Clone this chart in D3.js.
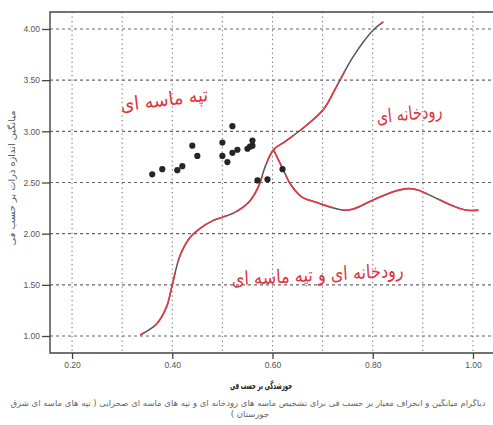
<!DOCTYPE html>
<html>
<head>
<meta charset="utf-8">
<script src="https://cdn.jsdelivr.net/npm/d3@7"></script>
<style>
  body { margin: 0; background: #fff; }
  svg { display: block; }
</style>
</head>
<body>
<svg id="chart" width="493" height="425"></svg>
<script>
// values
var yTicks = [1.00, 1.50, 2.00, 2.50, 3.00, 3.50, 4.00];
var xTicks = [0.20, 0.40, 0.60, 0.80, 1.00];
var xGrid  = [0.20, 0.30, 0.40, 0.50, 0.60, 0.70, 0.80, 0.90, 1.00];

// samples (sorting, mean)
var sampleX = [0.36, 0.38, 0.41, 0.42, 0.44, 0.45, 0.50, 0.50, 0.51, 0.52, 0.52, 0.53, 0.55, 0.555, 0.56, 0.56, 0.57, 0.59, 0.62];
var sampleY = [2.58, 2.63, 2.62, 2.66, 2.86, 2.76, 2.89, 2.76, 2.70, 3.05, 2.79, 2.82, 2.83, 2.85, 2.91, 2.86, 2.52, 2.53, 2.63];

// boundary curve: dune / river
var sCurveX = [0.336, 0.369, 0.389, 0.400, 0.415, 0.435, 0.455, 0.482, 0.522, 0.553, 0.572, 0.585, 0.602, 0.625, 0.658, 0.701, 0.728, 0.761, 0.801, 0.821];
var sCurveY = [1.01, 1.12, 1.29, 1.50, 1.78, 1.96, 2.05, 2.13, 2.20, 2.31, 2.46, 2.65, 2.82, 2.90, 3.02, 3.21, 3.44, 3.73, 3.99, 4.07];

// lower boundary curve branching from the crossing
var lowCurveX = [0.602, 0.612, 0.622, 0.635, 0.658, 0.685, 0.741, 0.761, 0.801, 0.841, 0.868, 0.888, 0.921, 0.961, 0.987, 1.011];
var lowCurveY = [2.82, 2.72, 2.62, 2.49, 2.36, 2.31, 2.23, 2.24, 2.33, 2.41, 2.44, 2.43, 2.36, 2.27, 2.23, 2.23];

var yTitle  = "میانگین اندازه ذرات بر حسب فی";
var xTitle  = "جورشدگی بر حسب فی";
var caption1 = "دیاگرام میانگین و انحراف معیار بر حسب فی برای تشخیص ماسه های رودخانه ای و تپه های ماسه ای صحرایی ( تپه های ماسه ای شرق";
var caption2 = "جورستان )";

var svg = d3.select("#chart");
var plotL = 50, plotR = 493, plotT = 12, plotB = 353;

var x = d3.scaleLinear().domain([0.156, 1.04]).range([plotL, plotR]);
var y = d3.scaleLinear().domain([0.834, 4.166]).range([plotB, plotT]);

// grid
svg.append("g").selectAll("line").data(yTicks).enter().append("line")
  .attr("x1", plotL).attr("x2", plotR)
  .attr("y1", d => y(d)).attr("y2", d => y(d))
  .attr("stroke", "#666").attr("stroke-width", 1.1)
  .attr("stroke-dasharray", "3,3");

svg.append("g").selectAll("line").data(xGrid).enter().append("line")
  .attr("x1", d => x(d)).attr("x2", d => x(d))
  .attr("y1", plotT).attr("y2", plotB)
  .attr("stroke", "#777").attr("stroke-width", 1.1)
  .attr("stroke-dasharray", "1.3,3.2");

// frame
svg.append("path")
  .attr("d", `M${plotR + 5},${plotT}H${plotL}V${plotB}H${plotR + 5}`)
  .attr("fill", "none").attr("stroke", "#444").attr("stroke-width", 1.4);

// axes
var yAxis = svg.append("g")
  .attr("transform", `translate(${plotL},0)`)
  .call(d3.axisLeft(y).tickValues(yTicks).tickFormat(d3.format(".2f")).tickSize(8).tickPadding(2));

var xAxis = svg.append("g")
  .attr("transform", `translate(0,${plotB})`)
  .call(d3.axisBottom(x).tickValues(xTicks).tickFormat(d3.format(".2f")).tickSize(6).tickPadding(3));

[yAxis, xAxis].forEach(function(a) {
  a.select(".domain").remove();
  a.selectAll(".tick line").attr("stroke", "#444").attr("stroke-width", 1.3);
  a.selectAll(".tick text")
    .attr("fill", "#555")
    .style("font-family", "Liberation Sans, Arial, sans-serif")
    .style("font-size", "8.5px");
});

// curves: printed grey line with red tracing over it
var line = d3.line().x(d => x(d[0])).y(d => y(d[1])).curve(d3.curveCatmullRom.alpha(0.5));
var sPts = d3.zip(sCurveX, sCurveY);
var lowPts = d3.zip(lowCurveX, lowCurveY);

[sPts, lowPts].forEach(function(pts, i) {
  svg.append("path").datum(pts)
    .attr("d", line).attr("fill", "none")
    .attr("stroke", "#555").attr("stroke-width", 1.5);
  svg.append("path").datum(pts)
    .attr("d", line).attr("fill", "none")
    .attr("stroke", "#e23b45").attr("stroke-width", 1.6)
    .attr("stroke-dasharray", i == 0 ? "5,10,60,12,70,10,45,14,40,8,60" : "20,8,60,10,90,12,80");
});

// samples
svg.append("g").selectAll("circle").data(d3.zip(sampleX, sampleY)).enter().append("circle")
  .attr("cx", d => x(d[0])).attr("cy", d => y(d[1]))
  .attr("r", 3.1).attr("fill", "#262626");

// axis titles
svg.append("text")
  .attr("transform", "translate(15,178) rotate(-90)")
  .attr("text-anchor", "middle").attr("direction", "rtl")
  .attr("textLength", 135).attr("lengthAdjust", "spacingAndGlyphs")
  .style("font-family", "DejaVu Sans, sans-serif").style("font-size", "9px")
  .attr("fill", "#555")
  .text(yTitle);

svg.append("text")
  .attr("x", 261).attr("y", 389)
  .attr("text-anchor", "middle").attr("direction", "rtl")
  .attr("textLength", 62).attr("lengthAdjust", "spacingAndGlyphs")
  .style("font-family", "DejaVu Sans, sans-serif").style("font-size", "10px").style("font-weight", "bold")
  .attr("fill", "#222")
  .text(xTitle);

// caption
svg.append("text")
  .attr("x", 248).attr("y", 406)
  .attr("text-anchor", "middle").attr("direction", "rtl")
  .attr("textLength", 475).attr("lengthAdjust", "spacingAndGlyphs")
  .style("font-family", "DejaVu Sans, sans-serif").style("font-size", "8.5px")
  .attr("fill", "#666")
  .text(caption1);

svg.append("text")
  .attr("x", 250).attr("y", 417)
  .attr("text-anchor", "middle").attr("direction", "rtl")
  .style("font-family", "DejaVu Sans, sans-serif").style("font-size", "8.5px")
  .attr("fill", "#666")
  .text(caption2);

// hand-written labels
var notes = [
  { t: "تپه ماسه ای", cx: 165, cy: 106, w: 88, r: -7 },
  { t: "رودخانه ای", cx: 410, cy: 120, w: 66, r: -6 },
  { t: "رودخانه ای و تپه ماسه ای", cx: 318, cy: 281, w: 172, r: -3 }
];
svg.append("g").selectAll("text").data(notes).enter().append("text")
  .attr("transform", d => `translate(${d.cx},${d.cy}) rotate(${d.r})`)
  .attr("text-anchor", "middle").attr("direction", "rtl")
  .attr("textLength", d => d.w).attr("lengthAdjust", "spacingAndGlyphs")
  .style("font-family", "DejaVu Sans, sans-serif").style("font-size", "19px")
  .attr("fill", "#e0343f")
  .text(d => d.t);
</script>
</body>
</html>
